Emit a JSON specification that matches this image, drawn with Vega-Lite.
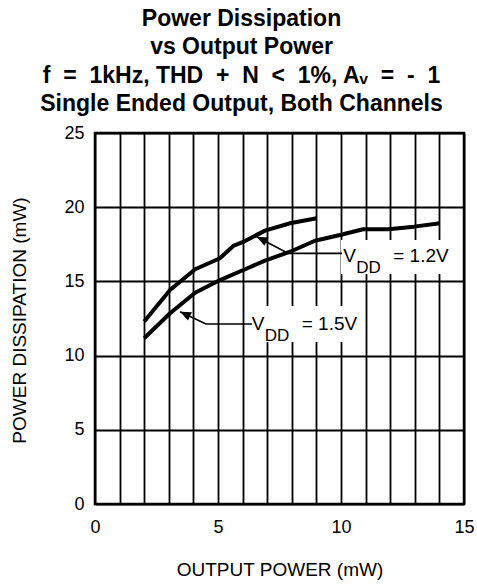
{
  "$schema": "https://vega.github.io/schema/vega-lite/v6.json",
  "autosize": {"type": "none"},
  "padding": {"left": 95, "top": 133, "right": 13, "bottom": 81},
  "width": 369,
  "height": 371,
  "background": "white",
  "config": {
    "view": {"stroke": "black", "strokeWidth": 2.5},
    "font": "Liberation Sans",
    "axis": {
      "domain": false, "ticks": false, "grid": true,
      "gridColor": "black", "gridOpacity": 1, "gridWidth": 1.8,
      "labelColor": "black", "labelFont": "Liberation Sans", "labelFontSize": 18,
      "titleFont": "Liberation Sans", "titleFontSize": 19, "titleFontWeight": "normal", "titleColor": "black"
    }
  },
  "title": {
    "text": ["Power Dissipation", "vs Output Power", "f\u00a0\u00a0=\u00a0\u00a01kHz, THD\u00a0\u00a0+\u00a0\u00a0N\u00a0\u00a0<\u00a0\u00a01%, A\u1d65\u00a0\u00a0=\u00a0\u00a0-\u00a0\u00a01", "Single Ended Output, Both Channels"],
    "font": "Liberation Sans",
    "fontSize": 23,
    "fontWeight": "bold",
    "color": "black",
    "lineHeight": 28.3,
    "anchor": "middle",
    "frame": "group",
    "dx": -38,
    "offset": 8
  },
  "datasets": {
    "curves": [
      {"series": "VDD = 1.2V", "x": 2.0, "y": 12.3},
      {"series": "VDD = 1.2V", "x": 3.05, "y": 14.42},
      {"series": "VDD = 1.2V", "x": 4.07, "y": 15.82},
      {"series": "VDD = 1.2V", "x": 5.08, "y": 16.56},
      {"series": "VDD = 1.2V", "x": 5.62, "y": 17.39},
      {"series": "VDD = 1.2V", "x": 6.1, "y": 17.72},
      {"series": "VDD = 1.2V", "x": 6.91, "y": 18.42},
      {"series": "VDD = 1.2V", "x": 7.93, "y": 18.92},
      {"series": "VDD = 1.2V", "x": 9.01, "y": 19.25},
      {"series": "VDD = 1.5V", "x": 2.0, "y": 11.17},
      {"series": "VDD = 1.5V", "x": 3.05, "y": 12.85},
      {"series": "VDD = 1.5V", "x": 4.07, "y": 14.24},
      {"series": "VDD = 1.5V", "x": 5.08, "y": 15.09},
      {"series": "VDD = 1.5V", "x": 6.1, "y": 15.82},
      {"series": "VDD = 1.5V", "x": 6.91, "y": 16.4},
      {"series": "VDD = 1.5V", "x": 7.93, "y": 17.0},
      {"series": "VDD = 1.5V", "x": 8.94, "y": 17.74},
      {"series": "VDD = 1.5V", "x": 9.96, "y": 18.13},
      {"series": "VDD = 1.5V", "x": 10.9, "y": 18.51},
      {"series": "VDD = 1.5V", "x": 11.92, "y": 18.51},
      {"series": "VDD = 1.5V", "x": 12.97, "y": 18.69},
      {"series": "VDD = 1.5V", "x": 14.02, "y": 18.92}
    ],
    "arrows": [
      {"arrow": "1.2V", "x": 6.57, "y": 18.01},
      {"arrow": "1.2V", "x": 7.86, "y": 16.89},
      {"arrow": "1.2V", "x": 10.04, "y": 16.89},
      {"arrow": "1.5V", "x": 3.46, "y": 12.96},
      {"arrow": "1.5V", "x": 4.51, "y": 12.13},
      {"arrow": "1.5V", "x": 6.38, "y": 12.13}
    ],
    "heads": [
      {"arrow": "1.2V", "x": 6.57, "y": 18.01},
      {"arrow": "1.5V", "x": 3.46, "y": 12.96}
    ],
    "boxes": [
      {"label": "1.2V", "x": 10.0, "x2": 14.4, "y": 15.5, "y2": 17.79},
      {"label": "1.5V", "x": 6.34, "x2": 10.61, "y": 10.92, "y2": 13.34}
    ],
    "labels": [
      {"v": "V", "sub": "DD", "rest": "= 1.2V", "x": 10.09, "y": 16.33},
      {"v": "V", "sub": "DD", "rest": "= 1.5V", "x": 6.37, "y": 11.73}
    ]
  },
  "layer": [
    {
      "data": {"name": "boxes"},
      "mark": {"type": "rect", "fill": "white", "stroke": null},
      "encoding": {
        "x": {"field": "x", "type": "quantitative", "scale": {"domain": [0, 15], "nice": false},
          "axis": {"values": [0, 1, 2, 3, 4, 5, 6, 7, 8, 9, 10, 11, 12, 13, 14, 15], "labelExpr": "datum.value % 5 === 0 ? datum.label : ''", "labelPadding": 14, "labelFlush": false, "labelOverlap": false, "title": "OUTPUT POWER (mW)", "titleX": 184.5, "titleY": 71, "titleBaseline": "alphabetic", "titleAlign": "center"}},
        "x2": {"field": "x2"},
        "y": {"field": "y", "type": "quantitative", "scale": {"domain": [0, 25], "nice": false},
          "axis": {"values": [0, 5, 10, 15, 20, 25], "labelPadding": 11, "title": "POWER DISSIPATION (mW)", "titleX": -70, "titleY": 187, "titleAngle": 270, "titleBaseline": "alphabetic", "titleAlign": "center"}},
        "y2": {"field": "y2"}
      }
    },
    {
      "data": {"name": "curves"},
      "mark": {"type": "line", "color": "black", "strokeWidth": 4, "strokeJoin": "round"},
      "encoding": {
        "x": {"field": "x", "type": "quantitative",
          "axis": {"values": [0, 1, 2, 3, 4, 5, 6, 7, 8, 9, 10, 11, 12, 13, 14, 15], "labelExpr": "datum.value % 5 === 0 ? datum.label : ''", "labelPadding": 14, "labelFlush": false, "labelOverlap": false, "title": "OUTPUT POWER (mW)", "titleX": 184.5, "titleY": 71, "titleBaseline": "alphabetic", "titleAlign": "center"}},
        "y": {"field": "y", "type": "quantitative",
          "axis": {"values": [0, 5, 10, 15, 20, 25], "labelPadding": 11, "title": "POWER DISSIPATION (mW)", "titleX": -70, "titleY": 187, "titleAngle": 270, "titleBaseline": "alphabetic", "titleAlign": "center"}},
        "detail": {"field": "series"}
      }
    },
    {
      "data": {"name": "arrows"},
      "mark": {"type": "line", "color": "black", "strokeWidth": 1.6},
      "encoding": {
        "x": {"field": "x", "type": "quantitative",
          "axis": {"values": [0, 1, 2, 3, 4, 5, 6, 7, 8, 9, 10, 11, 12, 13, 14, 15], "labelExpr": "datum.value % 5 === 0 ? datum.label : ''", "labelPadding": 14, "labelFlush": false, "labelOverlap": false, "title": "OUTPUT POWER (mW)", "titleX": 184.5, "titleY": 71, "titleBaseline": "alphabetic", "titleAlign": "center"}},
        "y": {"field": "y", "type": "quantitative",
          "axis": {"values": [0, 5, 10, 15, 20, 25], "labelPadding": 11, "title": "POWER DISSIPATION (mW)", "titleX": -70, "titleY": 187, "titleAngle": 270, "titleBaseline": "alphabetic", "titleAlign": "center"}},
        "detail": {"field": "arrow"}
      }
    },
    {
      "data": {"name": "heads"},
      "mark": {"type": "point", "shape": "M0,0L0.42,1L-0.42,1Z", "filled": true, "color": "black", "opacity": 1, "size": 480, "angle": 296},
      "encoding": {
        "x": {"field": "x", "type": "quantitative",
          "axis": {"values": [0, 1, 2, 3, 4, 5, 6, 7, 8, 9, 10, 11, 12, 13, 14, 15], "labelExpr": "datum.value % 5 === 0 ? datum.label : ''", "labelPadding": 14, "labelFlush": false, "labelOverlap": false, "title": "OUTPUT POWER (mW)", "titleX": 184.5, "titleY": 71, "titleBaseline": "alphabetic", "titleAlign": "center"}},
        "y": {"field": "y", "type": "quantitative",
          "axis": {"values": [0, 5, 10, 15, 20, 25], "labelPadding": 11, "title": "POWER DISSIPATION (mW)", "titleX": -70, "titleY": 187, "titleAngle": 270, "titleBaseline": "alphabetic", "titleAlign": "center"}}
      }
    },
    {
      "data": {"name": "labels"},
      "mark": {"type": "text", "align": "left", "baseline": "alphabetic", "fontSize": 19, "color": "black", "font": "Liberation Sans"},
      "encoding": {
        "x": {"field": "x", "type": "quantitative",
          "axis": {"values": [0, 1, 2, 3, 4, 5, 6, 7, 8, 9, 10, 11, 12, 13, 14, 15], "labelExpr": "datum.value % 5 === 0 ? datum.label : ''", "labelPadding": 14, "labelFlush": false, "labelOverlap": false, "title": "OUTPUT POWER (mW)", "titleX": 184.5, "titleY": 71, "titleBaseline": "alphabetic", "titleAlign": "center"}},
        "y": {"field": "y", "type": "quantitative",
          "axis": {"values": [0, 5, 10, 15, 20, 25], "labelPadding": 11, "title": "POWER DISSIPATION (mW)", "titleX": -70, "titleY": 187, "titleAngle": 270, "titleBaseline": "alphabetic", "titleAlign": "center"}},
        "text": {"field": "v"}
      }
    },
    {
      "data": {"name": "labels"},
      "mark": {"type": "text", "align": "left", "baseline": "alphabetic", "fontSize": 17, "dx": 13, "dy": 11.5, "color": "black", "font": "Liberation Sans"},
      "encoding": {
        "x": {"field": "x", "type": "quantitative",
          "axis": {"values": [0, 1, 2, 3, 4, 5, 6, 7, 8, 9, 10, 11, 12, 13, 14, 15], "labelExpr": "datum.value % 5 === 0 ? datum.label : ''", "labelPadding": 14, "labelFlush": false, "labelOverlap": false, "title": "OUTPUT POWER (mW)", "titleX": 184.5, "titleY": 71, "titleBaseline": "alphabetic", "titleAlign": "center"}},
        "y": {"field": "y", "type": "quantitative",
          "axis": {"values": [0, 5, 10, 15, 20, 25], "labelPadding": 11, "title": "POWER DISSIPATION (mW)", "titleX": -70, "titleY": 187, "titleAngle": 270, "titleBaseline": "alphabetic", "titleAlign": "center"}},
        "text": {"field": "sub"}
      }
    },
    {
      "data": {"name": "labels"},
      "mark": {"type": "text", "align": "left", "baseline": "alphabetic", "fontSize": 19, "dx": 50, "color": "black", "font": "Liberation Sans"},
      "encoding": {
        "x": {"field": "x", "type": "quantitative",
          "axis": {"values": [0, 1, 2, 3, 4, 5, 6, 7, 8, 9, 10, 11, 12, 13, 14, 15], "labelExpr": "datum.value % 5 === 0 ? datum.label : ''", "labelPadding": 14, "labelFlush": false, "labelOverlap": false, "title": "OUTPUT POWER (mW)", "titleX": 184.5, "titleY": 71, "titleBaseline": "alphabetic", "titleAlign": "center"}},
        "y": {"field": "y", "type": "quantitative",
          "axis": {"values": [0, 5, 10, 15, 20, 25], "labelPadding": 11, "title": "POWER DISSIPATION (mW)", "titleX": -70, "titleY": 187, "titleAngle": 270, "titleBaseline": "alphabetic", "titleAlign": "center"}},
        "text": {"field": "rest"}
      }
    }
  ]
}
